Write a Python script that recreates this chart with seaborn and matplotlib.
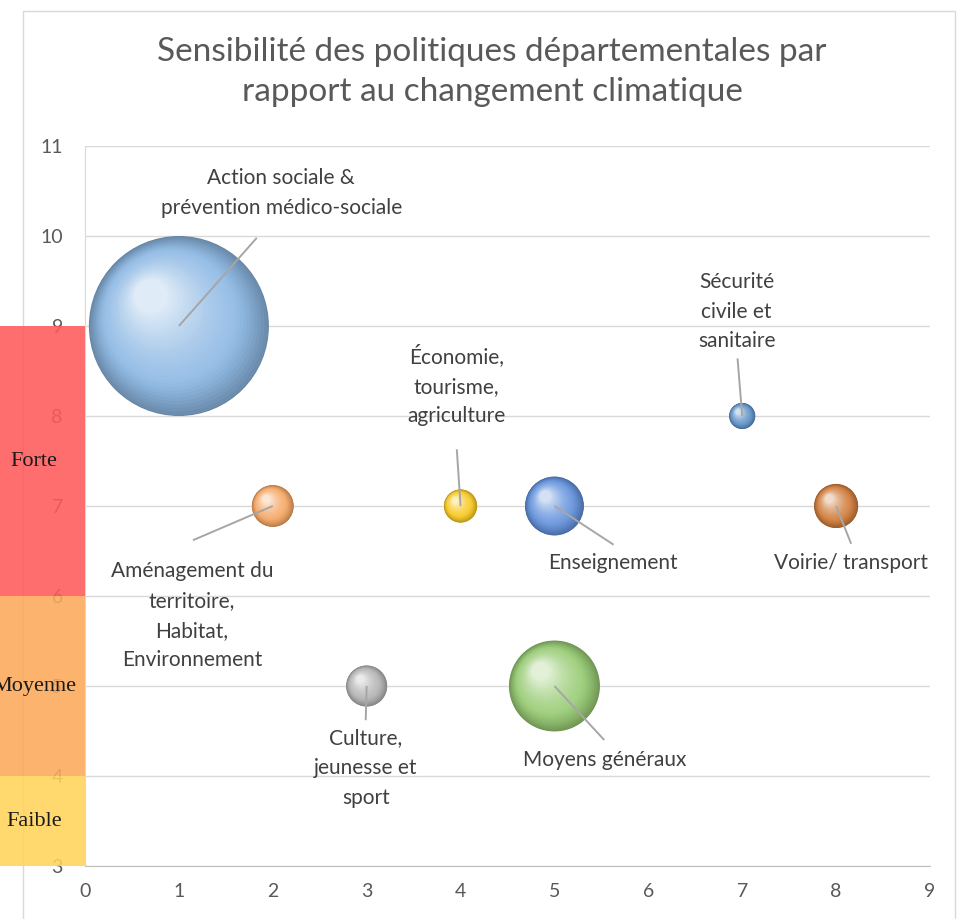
import numpy as np
import pandas as pd
import matplotlib
matplotlib.use("Agg")
import matplotlib.pyplot as plt
import matplotlib.colors as mcolors
from matplotlib.path import Path
from matplotlib.patches import Rectangle
from matplotlib.transforms import blended_transform_factory
import seaborn as sns

# ---------------- data ----------------
categories = ["Action sociale &\nprévention médico-sociale",
              "Aménagement du\nterritoire,\nHabitat,\nEnvironnement",
              "Culture,\njeunesse et\nsport",
              "Économie,\ntourisme,\nagriculture",
              "Enseignement",
              "Moyens généraux",
              "Sécurité\ncivile et\nsanitaire",
              "Voirie/ transport"]
x_vals = [1, 2, 3, 4, 5, 5, 7, 8]
y_vals = [9, 7, 5, 7, 7, 5, 8, 7]
bubble_size = [100, 5.4, 5.2, 3.4, 10.7, 25.5, 2.1, 6.0]

levels = ["Faible", "Moyenne", "Forte"]
level_low = [3, 4, 6]
level_high = [4, 6, 9]

x_ticks = list(range(0, 10))
y_ticks = list(range(3, 12))

title = "Sensibilité des politiques départementales par\nrapport au changement climatique"

# ---------------- styles ----------------
colors = ["#8EB9E4", "#F5A765", "#B3B3B3", "#F7C923",
          "#6492DC", "#98CB74", "#5F92C8", "#D07D3C"]
level_colors = ["#FFD45A", "#FBA95A", "#FF5A5A"]
# label anchor (text centre) and leader line end
label_pos = [(2.09, 10.48), (1.14, 5.78), (2.99, 4.09), (3.96, 8.34),
             (5.62, 6.37), (5.53, 4.18), (6.94, 9.16), (8.16, 6.37)]
leader_end = [(1.83, 9.98), (1.15, 6.62), (2.99, 4.62), (3.96, 7.63),
              (5.63, 6.57), (5.53, 4.40), (6.95, 8.64), (8.16, 6.58)]

W, H = 965, 919
sns.set_style("white")
plt.rcParams["font.family"] = ["Lato", "DejaVu Sans"]

fig = plt.figure(figsize=(W / 100, H / 100), dpi=100)
ax = fig.add_axes([85 / W, 1 - 866 / H, (930 - 85) / W, (866 - 146) / H])

df = pd.DataFrame({"cat": categories, "x": x_vals, "y": y_vals, "s": bubble_size})

SMAX = 16800


def offset_circle(cx, cy, r):
    circ = Path.circle((cx, cy), r)
    verts = np.concatenate([[[-1.0, -1.0], [1.0, 1.0]], circ.vertices])
    codes = np.concatenate([[Path.MOVETO, Path.MOVETO], circ.codes])
    return Path(verts, codes)


def mix(c, other, t):
    a = np.array(mcolors.to_rgb(c))
    b = np.array(mcolors.to_rgb(other))
    return tuple(a * (1 - t) + b * t)


n_layers = 30
layers = [("base", 0.0)] + [("l", k / (n_layers - 1)) for k in range(n_layers)]
for kind, t in layers:
    if kind == "base":
        pal = {c: mix(col, "black", 0.28) for c, col in zip(categories, colors)}
        mk = offset_circle(0, 0, 1.0)
    else:
        r = 0.99 - 0.80 * t
        cx, cy = -0.31 * t, 0.33 * t
        mk = offset_circle(cx, cy, r)
        dark = 0.24 * max(0.0, 1 - t / 0.35) ** 1.5
        pal = {c: mix(mix(col, "black", dark), "white", 0.72 * t ** 1.8)
               for c, col in zip(categories, colors)}
    sns.scatterplot(data=df, x="x", y="y", hue="cat", palette=pal,
                    size="s", sizes=(0, SMAX), size_norm=(0, 100),
                    marker=mk, linewidth=0, edgecolor="none",
                    legend=False, ax=ax, zorder=3)

# labels and leader lines
for cat, xv, yv, (lx, ly), (ex, ey) in zip(categories, x_vals, y_vals, label_pos, leader_end):
    ax.plot([xv, ex], [yv, ey], color="#A6A6A6", lw=1.4, zorder=4, solid_capstyle="butt")
    ax.text(lx, ly, cat, ha="center", va="center", fontsize=15, color="#404040",
            linespacing=1.6, zorder=6)

ax.set_xlim(0, 9)
ax.set_ylim(3, 11)
ax.set_xticks(x_ticks)
ax.set_yticks(y_ticks)
ax.set_xlabel("")
ax.set_ylabel("")
ax.grid(axis="y", color="#D9D9D9", lw=1)
ax.grid(axis="x", visible=False)
ax.set_axisbelow(True)
for s in ["top", "right"]:
    ax.spines[s].set_visible(False)
ax.spines["left"].set_color("#D9D9D9")
ax.spines["bottom"].set_color("#BFBFBF")
ax.tick_params(axis="both", length=0, labelsize=14, labelcolor="#595959")
ax.tick_params(axis="y", pad=16)
ax.tick_params(axis="x", pad=12)

# sensitivity bands
tr = blended_transform_factory(fig.transFigure, ax.transData)
for lev, lo, hi, col in zip(levels, level_low, level_high, level_colors):
    ax.add_artist(Rectangle((0, lo), 85 / W, hi - lo, transform=tr, facecolor=col,
                            edgecolor="none", alpha=0.88, zorder=7, clip_on=False))
    ax.text(34 / W, (lo + hi) / 2, lev, transform=tr, ha="center", va="center",
            fontsize=16, family=["Liberation Serif"], color="#1a1a1a", zorder=8, clip_on=False)

# chart frame
fig.add_artist(Rectangle((23 / W, -0.01), (955 - 23) / W, 1 - 11 / H + 0.01,
                         transform=fig.transFigure, facecolor="none",
                         edgecolor="#D9D9D9", lw=1, zorder=0))

fig.text(492 / W, 1 - 72 / H, title, ha="center", va="center", fontsize=24,
         color="#595959", linespacing=1.4)

fig.savefig("out.png", dpi=100)
